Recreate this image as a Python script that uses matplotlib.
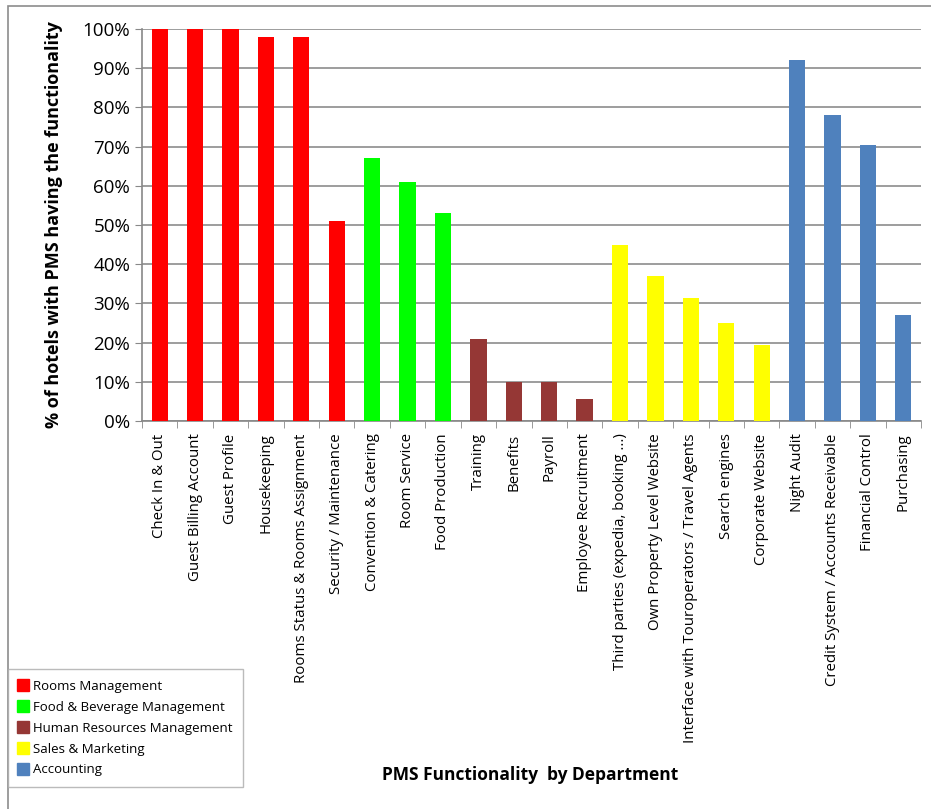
import matplotlib.pyplot as plt
from matplotlib.patches import Rectangle
from matplotlib.lines import Line2D
import numpy as np

# Данные
functions = [
    'Check In & Out', 'Guest Billing Account', 'Guest Profile', 'Housekeeping',
    'Rooms Status & Rooms Assignment', 'Security / Maintenance',
    'Convention & Catering', 'Room Service', 'Food Production',
    'Training', 'Benefits', 'Payroll', 'Employee Recruitment',
    'Third parties (expedia, booking ...)', 'Own Property Level Website',
    'Interface with Touroperators / Travel Agents', 'Search engines',
    'Corporate Website',
    'Night Audit', 'Credit System / Accounts Receivable', 'Financial Control',
    'Purchasing',
]
values = [100, 100, 100, 98, 98, 51,
          67, 61, 53,
          21, 10, 10, 5.5,
          45, 37, 31.3, 25, 19.5,
          92, 78, 70.3, 27]
departments = ['Rooms Management'] * 6 + ['Food & Beverage Management'] * 3 + \
    ['Human Resources Management'] * 4 + ['Sales & Marketing'] * 5 + ['Accounting'] * 4
dept_names = ['Rooms Management', 'Food & Beverage Management',
              'Human Resources Management', 'Sales & Marketing', 'Accounting']
dept_colors = {'Rooms Management': '#ff0000',
               'Food & Beverage Management': '#00ff00',
               'Human Resources Management': '#953735',
               'Sales & Marketing': '#ffff00',
               'Accounting': '#4f81bd'}

plt.rcParams['font.family'] = ['Open Sans', 'DejaVu Sans']

fig = plt.figure(figsize=(9.31, 8.09), dpi=100)
ax = fig.add_axes([142 / 931, 1 - 421 / 809, 779 / 931, 392 / 809])

x = np.arange(len(functions))
colors = [dept_colors[d] for d in departments]
ax.bar(x, values, width=0.46, color=colors, zorder=3)

ax.set_xlim(-0.5, len(functions) - 0.5)
ax.set_ylim(0, 100)
ax.set_yticks(np.arange(0, 101, 10))
ax.set_yticklabels([f'{v}%' for v in range(0, 101, 10)], fontsize=13.5)
ax.set_xticks(x)
ax.set_xticklabels(functions, rotation=90, fontsize=10.8)
ax.tick_params(axis='x', length=0, pad=9)
ax.tick_params(axis='y', length=5, color='#888888', direction='out')

# Засечки между категориями, как в Excel
ax.set_xticks(np.arange(-0.5, len(functions)), minor=True)
ax.tick_params(axis='x', which='minor', length=5, color='#888888', direction='out')

ax.grid(axis='y', color='#8c8c8c', linewidth=1.2, zorder=0)
for side in ['top', 'right']:
    ax.spines[side].set_visible(False)
for side in ['left', 'bottom']:
    ax.spines[side].set_color('#888888')
    ax.spines[side].set_linewidth(1.2)

ax.set_ylabel('% of hotels with PMS having the functionality',
              fontsize=13, fontweight='bold', labelpad=14)
fig.text(530 / 931, 1 - 775 / 809, 'PMS Functionality  by Department',
         fontsize=12.5, fontweight='bold', ha='center', va='center')

# Легенда
handles = [Line2D([0], [0], marker='s', linestyle='', markersize=8,
                  markerfacecolor=dept_colors[d], markeredgecolor=dept_colors[d])
           for d in dept_names]
leg = fig.legend(handles, dept_names, loc='lower left',
                 bbox_to_anchor=(8 / 931, 1 - 787 / 809), fontsize=9.5,
                 frameon=True, fancybox=False, handlelength=0.6,
                 handletextpad=0.5, labelspacing=0.6, borderpad=0.8,
                 borderaxespad=0)
leg.get_frame().set_edgecolor('#aaaaaa')
leg.get_frame().set_linewidth(1)

# Рамка области диаграммы
fig.patches.append(Rectangle((8 / 931, -0.05), 1.0, 1 - 6 / 809 + 0.05,
                             transform=fig.transFigure, fill=False,
                             edgecolor='#8c8c8c', linewidth=1.2))

plt.savefig('out.png', dpi=100)
plt.close()
